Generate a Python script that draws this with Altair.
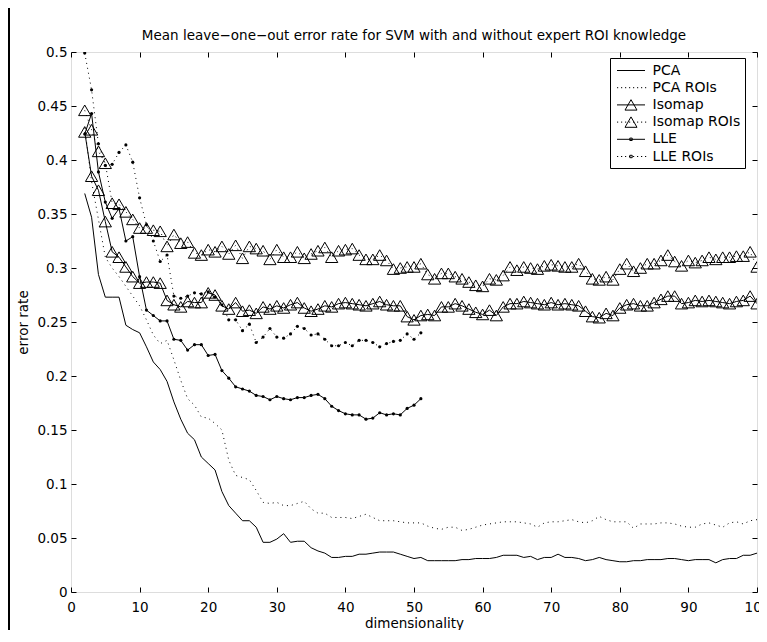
import altair as alt
import pandas as pd

# ---------------- data ----------------
dims_long = list(range(2, 101))   # PCA / Isomap runs
dims_short = list(range(2, 52))   # LLE runs

pca = [0.369, 0.347, 0.294, 0.273, 0.273, 0.273, 0.247, 0.243, 0.240, 0.227,
       0.213, 0.206, 0.195, 0.176, 0.160, 0.147, 0.141, 0.125, 0.119, 0.113,
       0.093, 0.080, 0.073, 0.066, 0.066, 0.060, 0.046, 0.046, 0.049, 0.054,
       0.046, 0.047, 0.047, 0.041, 0.038, 0.036, 0.032, 0.032, 0.033, 0.033,
       0.035, 0.035, 0.036, 0.037, 0.037, 0.037, 0.035, 0.033, 0.031, 0.032,
       0.029, 0.029, 0.029, 0.029, 0.029, 0.030, 0.030, 0.031, 0.031, 0.031,
       0.032, 0.034, 0.034, 0.034, 0.032, 0.033, 0.030, 0.032, 0.032, 0.035,
       0.032, 0.032, 0.031, 0.029, 0.030, 0.032, 0.030, 0.029, 0.028, 0.028,
       0.029, 0.029, 0.030, 0.030, 0.030, 0.031, 0.031, 0.030, 0.029, 0.030,
       0.030, 0.030, 0.027, 0.030, 0.031, 0.031, 0.034, 0.034, 0.036]

pca_roi = [0.430, 0.380, 0.345, 0.310, 0.300, 0.292, 0.283, 0.274, 0.265, 0.252,
           0.238, 0.230, 0.233, 0.215, 0.196, 0.179, 0.173, 0.162, 0.161, 0.156,
           0.150, 0.122, 0.108, 0.106, 0.104, 0.094, 0.083, 0.082, 0.083, 0.080,
           0.080, 0.082, 0.084, 0.077, 0.073, 0.073, 0.069, 0.069, 0.069, 0.068,
           0.070, 0.072, 0.069, 0.066, 0.066, 0.066, 0.065, 0.064, 0.064, 0.064,
           0.061, 0.059, 0.058, 0.060, 0.060, 0.057, 0.058, 0.060, 0.062, 0.063,
           0.064, 0.065, 0.065, 0.065, 0.064, 0.063, 0.060, 0.064, 0.065, 0.065,
           0.066, 0.067, 0.065, 0.064, 0.066, 0.070, 0.067, 0.065, 0.065, 0.065,
           0.059, 0.063, 0.063, 0.063, 0.064, 0.064, 0.063, 0.061, 0.060, 0.060,
           0.063, 0.064, 0.062, 0.060, 0.064, 0.065, 0.063, 0.066, 0.067]

iso = [0.426, 0.385, 0.372, 0.343, 0.315, 0.310, 0.301, 0.292, 0.286, 0.287,
       0.287, 0.286, 0.270, 0.266, 0.264, 0.269, 0.268, 0.268, 0.277, 0.275,
       0.265, 0.262, 0.268, 0.260, 0.261, 0.258, 0.264, 0.262, 0.265, 0.263,
       0.266, 0.268, 0.263, 0.260, 0.262, 0.265, 0.264, 0.267, 0.268, 0.267,
       0.266, 0.265, 0.267, 0.269, 0.266, 0.265, 0.265, 0.255, 0.252, 0.256,
       0.257, 0.256, 0.264, 0.264, 0.267, 0.265, 0.262, 0.259, 0.257, 0.261,
       0.256, 0.264, 0.267, 0.267, 0.269, 0.268, 0.267, 0.266, 0.268, 0.266,
       0.267, 0.266, 0.265, 0.260, 0.255, 0.254, 0.258, 0.256, 0.263, 0.266,
       0.267, 0.265, 0.265, 0.268, 0.271, 0.274, 0.274, 0.267, 0.268, 0.270,
       0.269, 0.270, 0.269, 0.268, 0.267, 0.269, 0.270, 0.274, 0.267]

iso_roi = [0.446, 0.428, 0.408, 0.397, 0.360, 0.359, 0.352, 0.345, 0.337, 0.337,
           0.335, 0.334, 0.320, 0.331, 0.323, 0.324, 0.314, 0.312, 0.317, 0.315,
           0.320, 0.313, 0.321, 0.309, 0.320, 0.318, 0.316, 0.308, 0.317, 0.310,
           0.310, 0.315, 0.309, 0.313, 0.316, 0.319, 0.310, 0.316, 0.317, 0.318,
           0.312, 0.308, 0.308, 0.312, 0.307, 0.299, 0.300, 0.301, 0.301, 0.304,
           0.294, 0.290, 0.295, 0.295, 0.292, 0.290, 0.287, 0.284, 0.283, 0.290,
           0.289, 0.293, 0.301, 0.298, 0.301, 0.300, 0.299, 0.302, 0.303, 0.302,
           0.301, 0.301, 0.304, 0.297, 0.290, 0.289, 0.292, 0.289, 0.299, 0.304,
           0.297, 0.300, 0.304, 0.304, 0.307, 0.312, 0.306, 0.302, 0.307, 0.305,
           0.307, 0.310, 0.308, 0.310, 0.310, 0.311, 0.311, 0.315, 0.301]

lle = [0.424, 0.443, 0.389, 0.361, 0.346, 0.355, 0.325, 0.329, 0.292, 0.261,
       0.256, 0.251, 0.251, 0.234, 0.233, 0.224, 0.229, 0.229, 0.219, 0.220,
       0.205, 0.198, 0.190, 0.188, 0.186, 0.182, 0.181, 0.178, 0.181, 0.179,
       0.178, 0.180, 0.180, 0.182, 0.183, 0.179, 0.172, 0.168, 0.165, 0.164,
       0.164, 0.160, 0.161, 0.166, 0.164, 0.165, 0.164, 0.170, 0.173, 0.179]

lle_roi = [0.499, 0.465, 0.415, 0.395, 0.396, 0.407, 0.414, 0.398, 0.365, 0.340,
           0.325, 0.306, 0.312, 0.274, 0.272, 0.274, 0.277, 0.276, 0.278, 0.273,
           0.266, 0.252, 0.252, 0.242, 0.248, 0.231, 0.236, 0.244, 0.236, 0.235,
           0.239, 0.246, 0.244, 0.238, 0.239, 0.234, 0.228, 0.228, 0.231, 0.228,
           0.233, 0.233, 0.231, 0.227, 0.230, 0.232, 0.233, 0.239, 0.234, 0.240]

series_names = ["PCA", "PCA ROIs", "Isomap", "Isomap ROIs", "LLE", "LLE ROIs"]
solid_series = ["PCA", "Isomap", "LLE"]
dotted_series = ["PCA ROIs", "Isomap ROIs", "LLE ROIs"]
x_ticks = list(range(0, 101, 10))
y_ticks = [0, 0.05, 0.1, 0.15, 0.2, 0.25, 0.3, 0.35, 0.4, 0.45, 0.5]
title_text = "Mean leave\u2212one\u2212out error rate for SVM with and without expert ROI knowledge"

rows = []
for name, xs, ys in [("PCA", dims_long, pca), ("PCA ROIs", dims_long, pca_roi),
                     ("Isomap", dims_long, iso), ("Isomap ROIs", dims_long, iso_roi),
                     ("LLE", dims_short, lle), ("LLE ROIs", dims_short, lle_roi)]:
    for xv, yv in zip(xs, ys):
        rows.append({"series": name, "dim": xv, "err": yv})
df = pd.DataFrame(rows)

# ---------------- styling ----------------
FONT = "DejaVu Sans"
FS = 13.5

xscale = alt.Scale(domain=[0, 100], nice=False, zero=False)
yscale = alt.Scale(domain=[0, 0.5], nice=False, zero=False)

common_axis = dict(grid=False, domain=False, tickSize=5, offset=-5, tickColor="black",
                   tickWidth=1, labelFont=FONT, labelFontSize=FS, labelColor="black",
                   titleFont=FONT, titleFontSize=FS, titleFontWeight="normal",
                   titleColor="black")

bottom_axis = alt.Axis(orient="bottom", values=x_ticks, labelPadding=8, labelFlush=False,
                       labelOverlap=False, title="dimensionality", titlePadding=3,
                       **common_axis)
left_axis = alt.Axis(orient="left", values=y_ticks, format=".2~f", labelPadding=4,
                     labelOverlap=False, title="error rate", titlePadding=6,
                     **common_axis)
top_axis = alt.Axis(orient="top", values=x_ticks, labels=False, title=None, **common_axis)
right_axis = alt.Axis(orient="right", values=y_ticks, labels=False, title=None, **common_axis)

# legend symbols: custom paths (unit = sqrt(size)/2 px)
solid_p = "M-1.75,0L1.75,0"
dotted_p = "".join("M%.3f,0L%.3f,0" % (-1.75 + 0.5 * i, -1.75 + 0.5 * i + 0.15) for i in range(8))
tri_p = "M0,-0.65L-0.75,0.65L0.75,0.65Z"
dot_p = "M-0.15,-0.15L0.15,-0.15L0.15,0.15L-0.15,0.15Z"
legend_paths = [solid_p, dotted_p, solid_p + tri_p, dotted_p + tri_p,
                solid_p + dot_p, dotted_p + dot_p]

base = alt.Chart(df)

lines_solid = base.transform_filter(
    alt.FieldOneOfPredicate(field="series", oneOf=solid_series)
).mark_line(color="black", strokeWidth=1, clip=True).encode(
    x=alt.X("dim:Q", scale=xscale, axis=bottom_axis),
    y=alt.Y("err:Q", scale=yscale, axis=left_axis),
    detail="series:N",
    order="dim:Q",
)

lines_dotted = base.transform_filter(
    alt.FieldOneOfPredicate(field="series", oneOf=dotted_series)
).mark_line(color="black", strokeWidth=1, strokeDash=[1, 4], clip=True).encode(
    x=alt.X("dim:Q", scale=xscale, axis=None),
    y=alt.Y("err:Q", scale=yscale, axis=None),
    detail="series:N",
    order="dim:Q",
)

tris = base.transform_filter(
    alt.FieldOneOfPredicate(field="series", oneOf=["Isomap", "Isomap ROIs"])
).mark_point(shape="triangle-up", filled=False, size=150, color="black",
             strokeWidth=1, opacity=1, clip=True).encode(
    x=alt.X("dim:Q", scale=xscale, axis=top_axis),
    y=alt.Y("err:Q", scale=yscale, axis=right_axis),
)

dots = base.transform_filter(
    alt.FieldOneOfPredicate(field="series", oneOf=["LLE", "LLE ROIs"])
).mark_circle(size=10, color="black", opacity=1, clip=True).encode(
    x=alt.X("dim:Q", scale=xscale, axis=None),
    y=alt.Y("err:Q", scale=yscale, axis=None),
)

legend_df = pd.DataFrame({"series": series_names})
legend_layer = alt.Chart(legend_df).mark_point(
    filled=False, size=256, color="black", strokeWidth=1, opacity=1, clip=True
).encode(
    x=alt.value(-40),
    y=alt.value(270),
    shape=alt.Shape("series:N",
                    scale=alt.Scale(domain=series_names, range=legend_paths),
                    legend=alt.Legend(orient="none", legendX=539, legendY=6, title=None,
                                      strokeColor="black", fillColor="white",
                                      padding=4, rowPadding=1.2, cornerRadius=0,
                                      labelFont=FONT, labelFontSize=14,
                                      labelColor="black", symbolSize=256,
                                      symbolStrokeWidth=1, symbolStrokeColor="black",
                                      symbolFillColor="transparent", symbolOpacity=1,
                                      symbolOffset=8.5, labelOffset=13,
                                      labelExpr="datum.label + '\u00a0\u00a0'")),
)

frame_line = alt.Chart(pd.DataFrame({"k": [0]})).mark_rule(
    color="black", strokeWidth=2, clip=False
).encode(x=alt.value(-62), y=alt.value(-44), y2=alt.value(578))

chart = alt.layer(lines_solid, lines_dotted, tris, dots, legend_layer, frame_line).resolve_axis(
    x="independent", y="independent"
).properties(
    width=686, height=540,
    padding={"left": 63, "top": 44, "right": 2, "bottom": 38},
    autosize=alt.AutoSizeParams(type="none"),
    title=alt.TitleParams(text=title_text, font=FONT, fontSize=FS, fontWeight="normal",
                          color="black", anchor="middle", frame="group",
                          baseline="bottom", offset=-49.6),
).configure_view(stroke="black", strokeWidth=1, fill="white"
).configure(background="white")

chart.save("out.html", embed_options={"renderer": "svg", "actions": False})
